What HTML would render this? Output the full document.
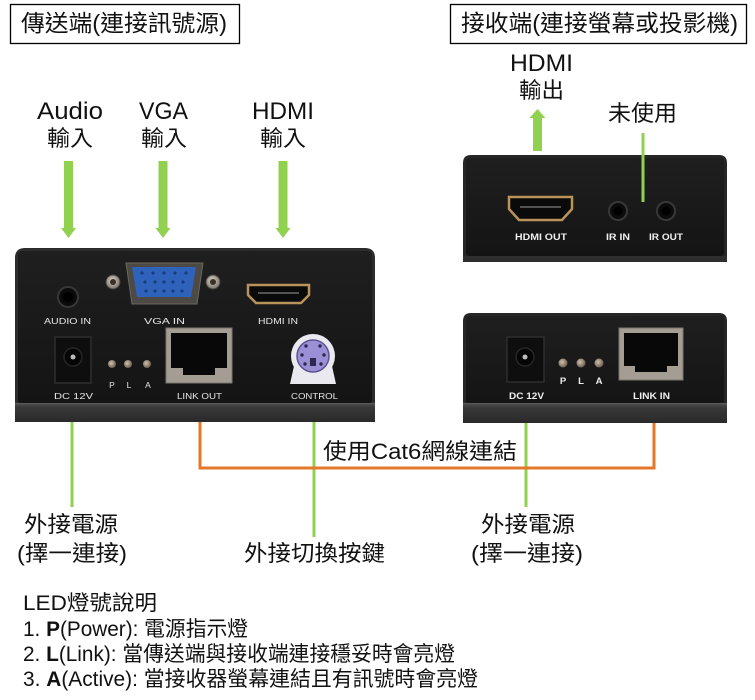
<!DOCTYPE html>
<html><head><meta charset="utf-8">
<style>
html,body{margin:0;padding:0;background:#fff;}
svg{display:block;}
text{font-family:"Liberation Sans","Noto Sans CJK TC",sans-serif;fill:#111;}
.dv{font-family:"Liberation Sans",sans-serif;fill:#e6e6e6;font-size:8.5px;}
.dvb{font-family:"Liberation Sans",sans-serif;fill:#eeeeee;font-size:9.5px;font-weight:bold;}
</style></head><body>
<svg width="755" height="700" viewBox="0 0 755 700" xmlns="http://www.w3.org/2000/svg">
<defs>
 <linearGradient id="strip" x1="0" y1="0" x2="0" y2="1">
  <stop offset="0" stop-color="#505050"/><stop offset="0.25" stop-color="#383838"/><stop offset="1" stop-color="#2a2a2a"/>
 </linearGradient>
 <linearGradient id="face" x1="0" y1="0" x2="0" y2="1">
  <stop offset="0" stop-color="#1f1f1f"/><stop offset="1" stop-color="#141414"/>
 </linearGradient>
 <radialGradient id="led" cx="0.4" cy="0.4" r="0.6">
  <stop offset="0" stop-color="#cfc2b0"/><stop offset="1" stop-color="#6e6050"/>
 </radialGradient>
 <radialGradient id="screw" cx="0.45" cy="0.4" r="0.6">
  <stop offset="0" stop-color="#d8d2c8"/><stop offset="1" stop-color="#7a746c"/>
 </radialGradient>
</defs>

<!-- Title boxes -->
<rect x="10.5" y="4.5" width="229" height="39" fill="none" stroke="#000" stroke-width="1.3"/>
<text x="21" y="31" font-size="23" textLength="206" lengthAdjust="spacingAndGlyphs">傳送端(連接訊號源)</text>
<rect x="450.5" y="4.5" width="296" height="39" fill="none" stroke="#000" stroke-width="1.3"/>
<text x="461" y="31" font-size="23" textLength="277" lengthAdjust="spacingAndGlyphs">接收端(連接螢幕或投影機)</text>

<!-- Input labels -->
<text x="37" y="119" font-size="24" textLength="66" lengthAdjust="spacingAndGlyphs">Audio</text>
<text x="47" y="146" font-size="22" textLength="46" lengthAdjust="spacingAndGlyphs">輸入</text>
<text x="139" y="119" font-size="24" textLength="49" lengthAdjust="spacingAndGlyphs">VGA</text>
<text x="141" y="146" font-size="22" textLength="46" lengthAdjust="spacingAndGlyphs">輸入</text>
<text x="252" y="119" font-size="24" textLength="62" lengthAdjust="spacingAndGlyphs">HDMI</text>
<text x="260" y="146" font-size="22" textLength="46" lengthAdjust="spacingAndGlyphs">輸入</text>

<text x="510" y="71" font-size="24" textLength="63" lengthAdjust="spacingAndGlyphs">HDMI</text>
<text x="519" y="98" font-size="22" textLength="45" lengthAdjust="spacingAndGlyphs">輸出</text>
<text x="608" y="121" font-size="22" textLength="69" lengthAdjust="spacingAndGlyphs">未使用</text>

<!-- Arrows -->
<g fill="#92d050">
 <rect x="64" y="161" width="9" height="68"/>
 <polygon points="61,228 76,228 68.5,238"/>
 <rect x="158.5" y="161" width="9" height="68"/>
 <polygon points="155.5,228 170.5,228 163,238"/>
 <rect x="278.5" y="161" width="9" height="68"/>
 <polygon points="275.5,228 290.5,228 283,238"/>
 <rect x="533" y="117" width="9" height="34"/>
 <polygon points="529.5,118 545.5,118 537.5,109"/>
</g>

<!-- connector lines behind devices -->
<g fill="none" stroke-width="3">
 <line x1="72" y1="404" x2="72" y2="507" stroke="#92d050"/>
 <line x1="314" y1="404" x2="314" y2="537" stroke="#92d050"/>
 <line x1="526" y1="410" x2="526" y2="507" stroke="#92d050"/>
 <polyline points="200,410 200,468 654,468 654,410" stroke="#e3782a"/>
</g>

<!-- LEFT DEVICE -->
<path d="M15,258 Q15,248 25,248 L365,248 Q375,248 375,258 L375,421 L15,421 Z" fill="#2c2c2c"/>
<rect x="18" y="251" width="354" height="153" rx="4" fill="url(#face)"/>
<rect x="15" y="403" width="360" height="19" fill="url(#strip)"/>
<line x1="15" y1="403.5" x2="375" y2="403.5" stroke="#5a5a5a" stroke-width="1"/>

<!-- audio jack -->
<circle cx="68" cy="297" r="10" fill="#0b0b0b" stroke="#383838" stroke-width="2"/>
<circle cx="68" cy="297" r="5" fill="#000"/>
<text class="dv" x="44" y="324" textLength="47" lengthAdjust="spacingAndGlyphs">AUDIO IN</text>

<!-- DC jack -->
<rect x="55" y="337" width="36" height="46" fill="#0e0e0e" stroke="#2e2e2e" stroke-width="1.5"/>
<circle cx="73" cy="357" r="9" fill="#050505" stroke="#262626" stroke-width="1.5"/>
<circle cx="73" cy="357" r="2.5" fill="#bbb"/>
<text class="dv" x="54" y="399" textLength="39" lengthAdjust="spacingAndGlyphs">DC 12V</text>

<!-- LEDs -->
<circle cx="112" cy="364" r="4" fill="url(#led)"/>
<circle cx="128" cy="364" r="4" fill="url(#led)"/>
<circle cx="147" cy="364" r="4" fill="url(#led)"/>
<text class="dv" x="112" y="388" text-anchor="middle">P</text>
<text class="dv" x="129" y="388" text-anchor="middle">L</text>
<text class="dv" x="148" y="388" text-anchor="middle">A</text>

<!-- VGA -->
<circle cx="113" cy="282" r="7" fill="url(#screw)" stroke="#4a4640" stroke-width="1"/>
<circle cx="113" cy="282" r="3" fill="#3a3026"/>
<circle cx="213" cy="282" r="7" fill="url(#screw)" stroke="#4a4640" stroke-width="1"/>
<circle cx="213" cy="282" r="3" fill="#3a3026"/>
<path d="M126,263 L203,263 L197,304 L132,304 Z" fill="#4d4a46" stroke="#6a6660" stroke-width="1"/>
<path d="M132,267 L196,267 L191,297 L137,297 Z" fill="#2f63bb"/>
<g fill="#173c80">
 <circle cx="142" cy="273" r="1.6"/><circle cx="153" cy="273" r="1.6"/><circle cx="164" cy="273" r="1.6"/><circle cx="175" cy="273" r="1.6"/><circle cx="186" cy="273" r="1.6"/>
 <circle cx="145" cy="282" r="1.6"/><circle cx="155" cy="282" r="1.6"/><circle cx="164" cy="282" r="1.6"/><circle cx="173" cy="282" r="1.6"/><circle cx="183" cy="282" r="1.6"/>
 <circle cx="146" cy="291" r="1.6"/><circle cx="155" cy="291" r="1.6"/><circle cx="164" cy="291" r="1.6"/><circle cx="173" cy="291" r="1.6"/><circle cx="182" cy="291" r="1.6"/>
</g>
<text class="dv" x="144" y="324" textLength="41" lengthAdjust="spacingAndGlyphs">VGA IN</text>

<!-- HDMI IN -->
<path d="M248,285 L309,285 L309,295 L301,303 L256,303 L248,295 Z" fill="#0a0a0a" stroke="#b8935a" stroke-width="2.5"/>
<line x1="258" y1="293" x2="299" y2="293" stroke="#6a6a6a" stroke-width="1.5"/>
<text class="dv" x="258" y="324" textLength="40" lengthAdjust="spacingAndGlyphs">HDMI IN</text>

<!-- RJ45 LINK OUT -->
<rect x="166" y="328" width="66" height="55" fill="#a39d93" stroke="#7b766e" stroke-width="1"/>
<path d="M171,333 H227 V368 H215 V375 H183 V368 H171 Z" fill="#080808"/>
<text class="dv" x="177" y="399" textLength="45" lengthAdjust="spacingAndGlyphs">LINK OUT</text>

<!-- mini DIN CONTROL -->
<circle cx="313" cy="356" r="22" fill="#e9e9ef"/>
<polygon points="294,366 332,366 336,384 290,384" fill="#e9e9ef"/>
<circle cx="313" cy="356" r="16" fill="#9b90d6" stroke="#5d5494" stroke-width="1.5"/>
<g fill="#2d2850">
 <circle cx="306" cy="346" r="1.7"/><circle cx="320" cy="346" r="1.7"/>
 <circle cx="302" cy="355" r="1.7"/><circle cx="324" cy="355" r="1.7"/>
 <circle cx="305" cy="364" r="1.7"/><circle cx="321" cy="364" r="1.7"/>
 <rect x="310" y="358" width="6" height="8"/>
</g>
<text class="dv" x="291" y="399" textLength="47" lengthAdjust="spacingAndGlyphs">CONTROL</text>

<!-- RIGHT TOP DEVICE -->
<path d="M463,163 Q463,155 471,155 L719,155 Q727,155 727,163 L727,262 L463,262 Z" fill="#262626"/>
<rect x="466" y="158" width="258" height="98" rx="3" fill="url(#face)"/>
<rect x="463" y="256" width="264" height="6" fill="#2e2e2e"/>
<path d="M509,197 L572,197 L572,209 L562,220 L519,220 L509,209 Z" fill="#0a0a0a" stroke="#b8935a" stroke-width="2.5"/>
<line x1="520" y1="207" x2="561" y2="207" stroke="#6a6a6a" stroke-width="1.5"/>
<text class="dvb" x="515" y="240" textLength="52" lengthAdjust="spacingAndGlyphs">HDMI OUT</text>
<circle cx="618" cy="211" r="9" fill="#0b0b0b" stroke="#383838" stroke-width="2"/>
<circle cx="618" cy="211" r="4.5" fill="#000"/>
<circle cx="666" cy="211" r="9" fill="#0b0b0b" stroke="#383838" stroke-width="2"/>
<circle cx="666" cy="211" r="4.5" fill="#000"/>
<text class="dvb" x="606" y="240" textLength="24" lengthAdjust="spacingAndGlyphs">IR IN</text>
<text class="dvb" x="649" y="240" textLength="34" lengthAdjust="spacingAndGlyphs">IR OUT</text>

<!-- RIGHT BOTTOM DEVICE -->
<path d="M463,321 Q463,313 471,313 L719,313 Q727,313 727,321 L727,423 L463,423 Z" fill="#262626"/>
<rect x="466" y="316" width="258" height="88" rx="3" fill="url(#face)"/>
<rect x="463" y="403" width="264" height="20" fill="url(#strip)"/>
<line x1="463" y1="403.5" x2="727" y2="403.5" stroke="#5a5a5a" stroke-width="1"/>
<rect x="507" y="337" width="37" height="45" fill="#0e0e0e" stroke="#2e2e2e" stroke-width="1.5"/>
<circle cx="525" cy="357" r="9" fill="#050505" stroke="#262626" stroke-width="1.5"/>
<circle cx="525" cy="357" r="2.5" fill="#bbb"/>
<circle cx="563" cy="363" r="4.5" fill="url(#led)"/>
<circle cx="581" cy="363" r="4.5" fill="url(#led)"/>
<circle cx="599" cy="363" r="4.5" fill="url(#led)"/>
<text class="dvb" x="563" y="384" text-anchor="middle">P</text>
<text class="dvb" x="581" y="384" text-anchor="middle">L</text>
<text class="dvb" x="599" y="384" text-anchor="middle">A</text>
<rect x="619" y="328" width="64" height="52" fill="#a39d93" stroke="#7b766e" stroke-width="1"/>
<path d="M624,333 H678 V366 H667 V372 H635 V366 H624 Z" fill="#080808"/>
<text class="dvb" x="509" y="399" textLength="35" lengthAdjust="spacingAndGlyphs">DC 12V</text>
<text class="dvb" x="633" y="399" textLength="37" lengthAdjust="spacingAndGlyphs">LINK IN</text>

<!-- unused line on top -->
<line x1="643" y1="133" x2="643" y2="202" stroke="#92d050" stroke-width="3"/>

<!-- bottom labels -->
<text x="323" y="459" font-size="22" textLength="194" lengthAdjust="spacingAndGlyphs">使用Cat6網線連結</text>
<text x="24" y="532" font-size="22" textLength="94" lengthAdjust="spacingAndGlyphs">外接電源</text>
<text x="17" y="561" font-size="22" textLength="110" lengthAdjust="spacingAndGlyphs">(擇一連接)</text>
<text x="244" y="561" font-size="22" textLength="141" lengthAdjust="spacingAndGlyphs">外接切換按鍵</text>
<text x="481" y="532" font-size="22" textLength="94" lengthAdjust="spacingAndGlyphs">外接電源</text>
<text x="471" y="561" font-size="22" textLength="112" lengthAdjust="spacingAndGlyphs">(擇一連接)</text>

<!-- LED legend -->
<text x="23" y="610" font-size="21" textLength="134" lengthAdjust="spacingAndGlyphs">LED燈號說明</text>
<text x="23" y="636" font-size="21" textLength="225" lengthAdjust="spacingAndGlyphs">1. <tspan font-weight="bold">P</tspan>(Power): 電源指示燈</text>
<text x="23" y="661" font-size="21" textLength="432" lengthAdjust="spacingAndGlyphs">2. <tspan font-weight="bold">L</tspan>(Link): 當傳送端與接收端連接穩妥時會亮燈</text>
<text x="23" y="686" font-size="21" textLength="455" lengthAdjust="spacingAndGlyphs">3. <tspan font-weight="bold">A</tspan>(Active): 當接收器螢幕連結且有訊號時會亮燈</text>
</svg>
</body></html>
